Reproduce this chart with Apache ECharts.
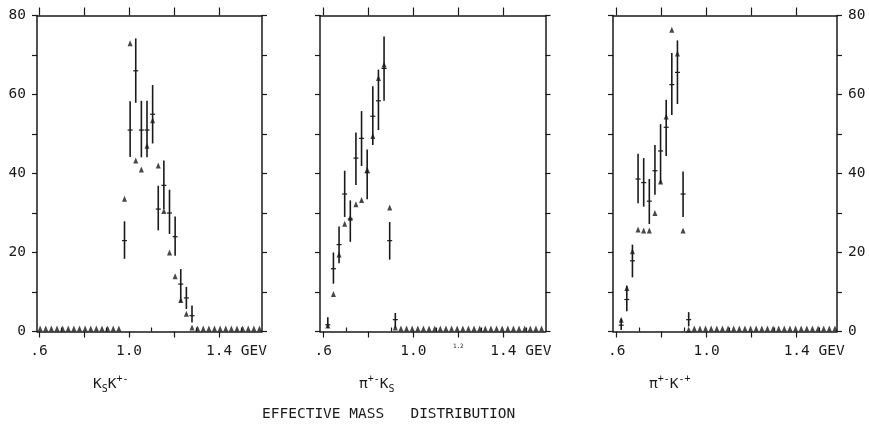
<!DOCTYPE html>
<html><head><meta charset="utf-8">
<script src="https://cdn.jsdelivr.net/npm/echarts@6/dist/echarts.min.js"></script>
<style>html,body{margin:0;padding:0;background:#fff}#c{width:869px;height:425px}</style>
</head><body><div id="c"></div>
<script>
// ---------- Panel 1: K_S K+- ----------
const p1Mass = [0.98, 1.005, 1.03, 1.055, 1.08, 1.105, 1.13, 1.155, 1.18, 1.205, 1.23, 1.255, 1.28];
const p1Tri  = [33.6, 73, 43.3, 41, 47, 53.5, 42, 30.5, 20, 14, 8, 4.5, 1];
const p1Bar  = [23, 51, 66, 51, 51, 55, 31, 37, 30, 24, 12, 8.5, 4];
const p1Lo   = [18.4, 44.2, 57.9, 44.1, 44.1, 47.6, 25.6, 31, 24.7, 19.2, 7.4, 5.7, 2.3];
const p1Hi   = [27.9, 58.3, 74.2, 58.4, 58.4, 62.4, 36.9, 43.3, 35.9, 29.1, 15.8, 11.3, 6.6];
const p1ZeroMass = [0.605, 0.63, 0.655, 0.68, 0.705, 0.73, 0.755, 0.78, 0.805, 0.83, 0.855, 0.88, 0.905, 0.93, 0.955,
                    1.305, 1.33, 1.355, 1.38, 1.405, 1.43, 1.455, 1.48, 1.505, 1.53, 1.555, 1.58];

// ---------- Panel 2: pi+- K_S ----------
const p2Mass = [0.62, 0.645, 0.67, 0.695, 0.72, 0.745, 0.77, 0.795, 0.82, 0.845, 0.87, 0.895, 0.92];
const p2Tri  = [1.5, 9.5, 19.5, 27.3, 28.8, 32.2, 33.3, 41, 49.5, 64.2, 67.6, 31.4, 1];
const p2Bar  = [1.7, 15.9, 22, 34.8, 28.5, 43.9, 48.9, 40.2, 54.5, 58.4, 66.6, 23, 3];
const p2Lo   = [0.9, 12.1, 17.3, 29, 22.7, 37.1, 41.9, 33.5, 47.2, 51, 58.4, 18.2, 0.9];
const p2Hi   = [3.6, 20, 26.6, 40.7, 33.2, 50.4, 55.8, 46.1, 62.1, 66.3, 74.7, 27.7, 4.7];
const p2ZeroMass = [0.945, 0.97, 0.995, 1.02, 1.045, 1.07, 1.095, 1.12, 1.145, 1.17, 1.195, 1.22, 1.245,
                    1.27, 1.295, 1.32, 1.345, 1.37, 1.395, 1.42, 1.445, 1.47, 1.495, 1.52, 1.545, 1.57];

// ---------- Panel 3: pi+- K-+ ----------
const p3Mass = [0.62, 0.645, 0.67, 0.695, 0.72, 0.745, 0.77, 0.795, 0.82, 0.845, 0.87, 0.895, 0.92];
const p3Tri  = [3, 11, 20.3, 25.8, 25.6, 25.6, 30, 38, 54.4, 76.4, 70.4, 25.6, 0.5];
const p3Bar  = [1.6, 8.1, 17.9, 38.6, 37.7, 33, 40.7, 45.7, 51.7, 62.5, 65.6, 34.8, 3];
const p3Lo   = [0.4, 5.1, 13.7, 32.5, 31.6, 27.2, 34.6, 37.5, 44.4, 54.8, 57.6, 29, 1.3];
const p3Hi   = [3.2, 11.6, 22, 45, 43.9, 38.6, 47.2, 52.5, 58.7, 70.5, 73.7, 40.5, 4.9];
const p3ZeroMass = [0.945, 0.97, 0.995, 1.02, 1.045, 1.07, 1.095, 1.12, 1.145, 1.17, 1.195, 1.22, 1.245,
                    1.27, 1.295, 1.32, 1.345, 1.37, 1.395, 1.42, 1.445, 1.47, 1.495, 1.52, 1.545, 1.57];

// ---------- ticks / labels ----------
const xLabelValues = [0.6, 1.0, 1.4];
const xLabelText   = ['.6', '1.0', '1.4 GEV'];
const xMajorTicks  = [0.6, 0.8, 1.0, 1.2, 1.4];
const xMinorTicks  = [0.7, 0.9, 1.1, 1.3, 1.5];
const yTickValues  = [0, 10, 20, 30, 40, 50, 60, 70, 80];
const yLabelValues = [0, 20, 40, 60, 80];
const panelTitles  = ['{n|K}{sub|S}{n|K}{sup|+-}', '{n|π}{sup|+-}{n|K}{sub|S}', '{n|π}{sup|+-}{n|K}{sup|-+}'];
const mainTitle    = 'EFFECTIVE MASS   DISTRIBUTION';

const FONT = 'DejaVu Sans Mono';
const INK = '#1a1a1a';

const panels = [
  {mass:p1Mass, tri:p1Tri, bar:p1Bar, lo:p1Lo, hi:p1Hi, zero:p1ZeroMass, left:37,  width:225,   min:0.5911, leftLabels:true,  rightLabels:false, extra:false},
  {mass:p2Mass, tri:p2Tri, bar:p2Bar, lo:p2Lo, hi:p2Hi, zero:p2ZeroMass, left:320, width:225.5, min:0.5853, leftLabels:false, rightLabels:false, extra:true},
  {mass:p3Mass, tri:p3Tri, bar:p3Bar, lo:p3Lo, hi:p3Hi, zero:p3ZeroMass, left:613, width:224,   min:0.5836, leftLabels:false, rightLabels:true,  extra:false}
];
const PX_PER_GEV = 225;

const grid = [], xAxis = [], yAxis = [], series = [];
const line = {color: INK, width: 1.5};

function errItem(params, api) {
  const x = api.value(0), c = api.value(1), lo = api.value(2), hi = api.value(3);
  const a = api.coord([x, lo]), b = api.coord([x, hi]), m = api.coord([x, c]);
  return {type: 'group', children: [
    {type: 'line', shape: {x1: a[0], y1: a[1], x2: b[0], y2: b[1]}, style: {stroke: INK, lineWidth: 1.6}},
    {type: 'line', shape: {x1: m[0] - 2.5, y1: m[1], x2: m[0] + 2.5, y2: m[1]}, style: {stroke: INK, lineWidth: 1.2}}
  ]};
}

panels.forEach((p, i) => {
  const max = p.min + p.width / PX_PER_GEV;
  grid.push({left: p.left, top: 15.5, width: p.width, height: 316});
  const labVals = p.extra ? [0.6, 1.0, 1.2, 1.4] : xLabelValues;
  xAxis.push({
    gridIndex: i, type: 'value', min: p.min, max: max, position: 'bottom',
    axisLine: {show: true, onZero: false, lineStyle: line},
    axisTick: {show: true, inside: false, length: 6, lineStyle: {color: INK, width: 1.2}, customValues: xMajorTicks},
    axisLabel: {
      show: true, customValues: labVals, margin: 12, color: INK, fontFamily: FONT, fontSize: 14.5,
      formatter: v => {
        if (Math.abs(v - 1.2) < 1e-6) return '{tiny|1.2}';
        const k = xLabelValues.findIndex(t => Math.abs(t - v) < 1e-6);
        const s = xLabelText[k];
        return k === 2 ? '{g|' + s + '}' : s;
      },
      rich: {
        g: {fontFamily: FONT, fontSize: 14.5, color: INK, padding: [0, 0, 0, 35]},
        tiny: {fontFamily: FONT, fontSize: 6, color: INK, padding: [0, 0, 12, 0]}
      }
    },
    splitLine: {show: false}
  });
  xAxis.push({
    gridIndex: i, type: 'value', min: p.min, max: max, position: 'top',
    axisLine: {show: true, onZero: false, lineStyle: line},
    axisTick: {show: true, inside: false, length: 8, lineStyle: {color: INK, width: 1.2}, customValues: xMajorTicks},
    axisLabel: {show: false}, splitLine: {show: false}
  });
  xAxis.push({
    gridIndex: i, type: 'value', min: p.min, max: max, position: 'top',
    axisLine: {show: false},
    axisTick: {show: true, inside: false, length: 4, lineStyle: {color: INK, width: 1.2}, customValues: xMinorTicks},
    axisLabel: {show: false}, splitLine: {show: false}
  });
  const yCommon = (pos, showLab) => ({
    gridIndex: i, type: 'value', min: 0, max: 80, position: pos,
    axisLine: {show: true, onZero: false, lineStyle: line},
    axisTick: {show: true, inside: false, length: 5, lineStyle: {color: INK, width: 1.2}, customValues: yTickValues},
    axisLabel: {show: showLab, customValues: yLabelValues, margin: 11, color: INK, fontFamily: FONT, fontSize: 14.5},
    splitLine: {show: false}
  });
  yAxis.push(yCommon('left', p.leftLabels));
  yAxis.push(yCommon('right', p.rightLabels));

  const xi = i * 3, yi = i * 2;
  series.push({
    type: 'custom', xAxisIndex: xi, yAxisIndex: yi, renderItem: errItem, silent: true,
    data: p.mass.map((m, k) => [m, p.bar[k], p.lo[k], p.hi[k]]), z: 2
  });
  series.push({
    type: 'scatter', xAxisIndex: xi, yAxisIndex: yi, symbol: 'triangle', symbolSize: [5, 6],
    itemStyle: {color: INK}, silent: true,
    data: p.mass.map((m, k) => [m, p.tri[k]]), z: 3
  });
  series.push({
    type: 'scatter', xAxisIndex: xi, yAxisIndex: yi, symbol: 'triangle', symbolSize: [5, 6], symbolOffset: [0, -3],
    itemStyle: {color: INK}, silent: true,
    data: p.zero.map(m => [m, 0]), z: 3
  });
});

const richT = {
  n:   {fontFamily: FONT, fontSize: 14.5, fontWeight: 'normal', color: INK, lineHeight: 20},
  sub: {fontFamily: FONT, fontSize: 10, fontWeight: 'normal', color: INK, lineHeight: 11, verticalAlign: 'bottom'},
  sup: {fontFamily: FONT, fontSize: 10, fontWeight: 'normal', color: INK, lineHeight: 11, verticalAlign: 'top'}
};
const title = [
  {text: panelTitles[0], left: 88, top: 369, textStyle: {fontWeight: 'normal', rich: richT}},
  {text: panelTitles[1], left: 354, top: 369, textStyle: {fontWeight: 'normal', rich: richT}},
  {text: panelTitles[2], left: 644, top: 369, textStyle: {fontWeight: 'normal', rich: richT}},
  {text: mainTitle, left: 257, top: 402, textStyle: {fontFamily: FONT, fontSize: 14.5, fontWeight: 'normal', color: INK}}
];

const chart = echarts.init(document.getElementById('c'), null, {renderer: 'canvas'});
chart.setOption({backgroundColor: '#fff', animation: false, title, grid, xAxis, yAxis, series});
</script></body></html>
